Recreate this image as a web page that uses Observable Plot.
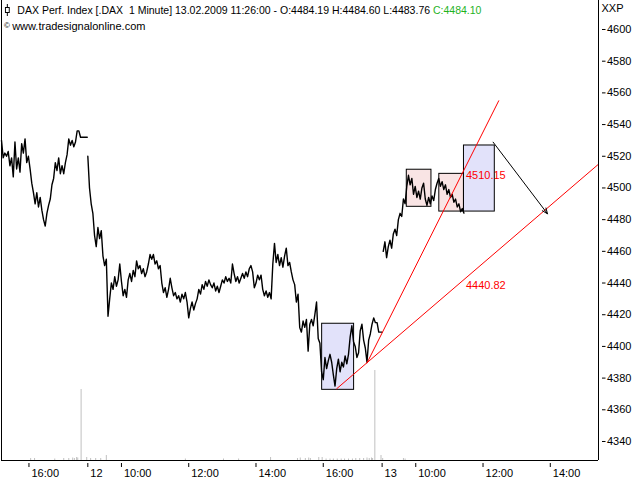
<!DOCTYPE html>
<html><head><meta charset="utf-8">
<script src="https://cdn.jsdelivr.net/npm/d3@7"></script>
<script src="https://cdn.jsdelivr.net/npm/@observablehq/plot@0.6"></script>
<style>
html,body{margin:0;padding:0;background:#fff;}
#wrap{position:relative;width:640px;height:480px;font-family:"Liberation Sans",Arial,sans-serif;font-size:11px;color:#000;}
.hdr{position:absolute;white-space:pre;line-height:13px;transform-origin:0 0;}
</style></head><body><div id="wrap"></div>
<script>
// ---------- data ----------
const titleText = "DAX Perf. Index [.DAX  1 Minute] 13.02.2009 11:26:00 - O:4484.19 H:4484.60 L:4483.76 ";
const closeText = "C:4484.10";
const sourceText = "www.tradesignalonline.com";
const symbolText = "XXP";

const stepMinutes = 3;
const day11Start = "11 15:11";
const day11Prices = [4530,4519,4522,4520,4523,4514,4519,4507,4529,4512,
  4519,4510,4528,4522,4531,4516,4520,4512,4503,4497,
  4490,4497,4488,4494,4486,4480,4476,4484,4489,4493,
  4502,4506,4516,4511,4519,4509,4514,4509,4516,4521,
  4531,4527,4530,4526,4529,4536,4536,4532,4532,4532,
  4532,4532];
const day12Start = "12 09:00";
const day12Prices = [4520,4500,4490,4484,4470,4463,4475,4468,4473,4457,
  4451,4455,4419,4430,4440,4436,4444,4438,4442,4452,
  4441,4432,4436,4431,4442,4446,4441,4448,4444,4454,
  4449,4451,4446,4449,4444,4447,4452,4458,4455,4458,
  4452,4454,4449,4451,4440,4434,4437,4431,4436,4443,
  4437,4432,4434,4430,4432,4428,4433,4430,4434,4428,
  4418,4424,4428,4423,4427,4430,4436,4433,4439,4436,
  4441,4438,4442,4439,4437,4440,4435,4438,4434,4438,
  4442,4440,4444,4441,4443,4440,4452,4446,4441,4444,
  4440,4443,4446,4443,4447,4444,4449,4451,4447,4437,
  4440,4445,4442,4445,4436,4432,4435,4431,4434,4430,
  4452,4465,4453,4458,4451,4456,4450,4457,4462,4451,
  4453,4447,4442,4439,4428,4433,4412,4409,4416,4412,
  4417,4397,4414,4417,4413,4420,4428,4405,4402,4384,
  4379,4393,4386,4391,4395,4390,4382,4375,4386,4392,
  4384,4390,4387,4394,4389,4395,4406,4413,4403,4400,
  4393,4396,4410,4414,4404,4399,4390,4404,4408,4414,
  4418,4415,4415,4409,4409,4409];
const day13Start = "13 09:02";
const day13Prices = [4460,4466,4456,4463,4467,4462,4471,4474,4470,4480,
  4484,4482,4493,4490,4501,4508,4502,4506,4496,4501,
  4494,4498,4493,4500,4503,4493,4489,4494,4490,4495,
  4492,4499,4503,4506,4501,4504,4499,4502,4496,4499,
  4494,4496,4491,4493,4488,4490,4485,4487,4484.1];

const volTimes = ["11 16:03","11 16:10","11 16:46","11 17:02","11 17:11","11 17:18","11 17:21","11 17:25","11 17:27","11 17:33","11 17:43",
  "12 09:05","12 09:14","12 09:23","12 09:33","12 11:54","12 13:02","12 13:29","12 14:26","12 15:14","12 15:19","12 15:28","12 15:34","12 15:37","12 15:52","12 15:58",
  "12 16:05","12 16:12","12 16:18","12 16:25","12 16:32","12 16:38","12 16:45","12 16:52","12 16:58","12 17:05","12 17:12","12 17:18","12 17:22","12 17:26","12 17:28","12 17:32","12 17:43",
  "13 09:01","13 09:38","13 09:41"];
const volValues = [20,20,15,20,20,25,20,30,25,710,30,
  20,20,20,50,15,15,15,30,20,25,20,25,20,30,30,
  15,15,15,15,15,15,15,15,20,20,20,25,20,25,20,900,50,
  20,20,15];

const boxKinds = ["range","pattern","pattern","target"];
const boxStart = ["12 15:58","13 09:44","13 10:42","13 11:26"];
const boxEnd   = ["12 16:55","13 10:28","13 11:26","13 12:21"];
const boxHigh  = [4414.3, 4511.5, 4508.9, 4526.8];
const boxLow   = [4372.6, 4488.1, 4485.1, 4485.1];

const trendNames = ["steep","steep","lower","lower"];
const trendTimes = ["12 17:18","13 12:28","12 16:24","13 15:26"];
const trendPrices = [4389.5, 4555, 4373.3, 4515];

const arrowFrom = ["13 12:18", 4528.9];
const arrowTo   = ["13 13:55", 4483.7];

const labelTime = "13 11:26";
const labelValues = [4510.15, 4440.82];

const xTickTimes = ["11 16:00","12 09:00","12 10:00","12 12:00","12 14:00","12 16:00","13 09:00","13 10:00","13 12:00","13 14:00"];
const xTickLabels = ["16:00","12","10:00","12:00","14:00","16:00","13","10:00","12:00","14:00"];
const yTicks = [4340,4360,4380,4400,4420,4440,4460,4480,4500,4520,4540,4560,4580,4600];
const xDomainTimes = ["11 15:11","13 15:26"];
const yDomain = [4328, 4618.3];

// ---------- helpers ----------
const SESSION = 8.75; // 09:00-17:45
function T(s){ const [d,hm]=s.split(" "); const [h,m]=hm.split(":").map(Number); return (Number(d)-12)*SESSION + h + m/60 - 9; }
function series(day, start, prices){ const t0=T(start); return prices.map((p,i)=>({day, t:t0+i*stepMinutes/60, price:p})); }
const priceRows = [...series(11,day11Start,day11Prices), ...series(12,day12Start,day12Prices), ...series(13,day13Start,day13Prices)];
const plotH = 460;
const pricePerPx = (yDomain[1]-yDomain[0])/plotH;
const volRows = volTimes.map((s,i)=>({t:T(s), v:volValues[i]}));
const boxRows = boxStart.map((s,i)=>({kind:boxKinds[i], x1:T(s), x2:T(boxEnd[i]), y1:boxLow[i], y2:boxHigh[i]}));
const trendRows = trendTimes.map((s,i)=>({name:trendNames[i], t:T(s), price:trendPrices[i]}));
const kindFill = {range:"#e2e2fa", target:"#e2e2fa", pattern:"#f9e4e4"};
const tickMap = new Map(xTickTimes.map((s,i)=>[T(s), xTickLabels[i]]));
const xTicks = xTickTimes.map(T);

const chart = Plot.plot({
  width: 640, height: 480,
  marginTop: 0, marginBottom: 20, marginLeft: 1, marginRight: 42,
  style: {fontFamily: "Liberation Sans, Arial, sans-serif", fontSize: "11px", background: "white", color: "black", overflow: "visible"},
  x: {type: "linear", domain: xDomainTimes.map(T), axis: null},
  y: {domain: yDomain, axis: null},
  marks: [
    Plot.ruleX(volRows, {x: "t", y1: yDomain[0], y2: d => yDomain[0] + d.v/10*pricePerPx, stroke: "#c0c0c0"}),
    Plot.rect(boxRows, {x1: "x1", x2: "x2", y1: "y1", y2: "y2", fill: d => kindFill[d.kind], stroke: "black", strokeWidth: 1}),
    Plot.line(priceRows, {x: "t", y: "price", z: "day", stroke: "black", strokeWidth: 1.4}),
    Plot.line(trendRows, {x: "t", y: "price", z: "name", stroke: "#ff0000", strokeWidth: 1}),
    Plot.arrow([0], {x1: T(arrowFrom[0]), y1: arrowFrom[1], x2: T(arrowTo[0]), y2: arrowTo[1], stroke: "black", strokeWidth: 1, headLength: 9, headAngle: 45}),
    Plot.text(labelValues, {x: T(labelTime), y: d => d, text: d => d.toFixed(2), dx: 2, dy: -1, textAnchor: "start", lineAnchor: "top", fill: "#ff0000", fontSize: 11}),
    Plot.ruleX([T(xDomainTimes[0]), T(xDomainTimes[1])], {stroke: "black"}),
    Plot.ruleY([yDomain[0]], {stroke: "black"}),
    Plot.axisY(yTicks, {anchor: "right", tickSize: 3.5, tickPadding: 2, dx: 3, fontSize: 11, tickFormat: d => String(d), label: null}),
    Plot.link(xTicks, {x1: d => d, x2: d => d, y1: () => yDomain[0] - 2.5*pricePerPx, y2: () => yDomain[0] - 6.5*pricePerPx, stroke: "black", strokeWidth: 1}),
    Plot.text(xTicks, {x: d => d, frameAnchor: "bottom", text: d => tickMap.get(d), dx: 2.5, dy: 9, textAnchor: "start", lineAnchor: "top", fontSize: 11}),
    Plot.text([symbolText], {frameAnchor: "top-right", dx: 3, dy: 4, textAnchor: "start", lineAnchor: "top", fontSize: 11})
  ]
});
const wrap = document.getElementById("wrap");
wrap.appendChild(chart);

const h1 = document.createElement("div");
h1.className = "hdr"; h1.style.left = "4px"; h1.style.top = "3.5px"; h1.style.transform = "scaleX(0.955)";
h1.innerHTML = '<svg width="8" height="12" style="vertical-align:-2px;margin-right:6px"><line x1="3.5" y1="0" x2="3.5" y2="12" stroke="black"/><rect x="1.5" y="3.5" width="4" height="5" fill="white" stroke="black"/></svg>';
h1.appendChild(document.createTextNode(titleText));
const cs = document.createElement("span"); cs.style.color = "#1fb31f"; cs.textContent = closeText; h1.appendChild(cs);
wrap.appendChild(h1);

const h2 = document.createElement("div");
h2.className = "hdr"; h2.style.left = "4px"; h2.style.top = "19px";
const cp = document.createElement("span"); cp.style.fontSize = "8px"; cp.style.verticalAlign = "2px"; cp.textContent = "\u00A9 "; h2.appendChild(cp);
h2.appendChild(document.createTextNode(sourceText));
wrap.appendChild(h2);
</script></body></html>
